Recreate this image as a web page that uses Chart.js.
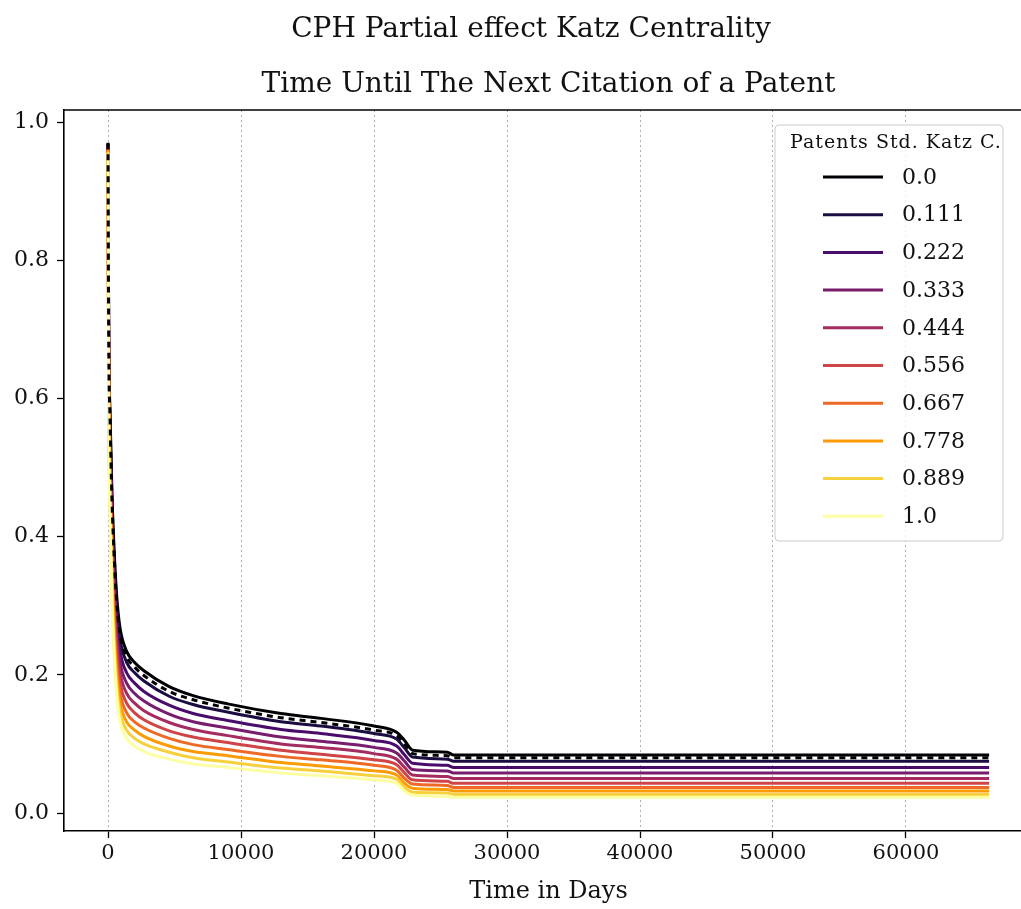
<!DOCTYPE html>
<html>
<head>
<meta charset="utf-8">
<script src="https://cdn.jsdelivr.net/npm/chart.js@4.4.1/dist/chart.umd.min.js"></script>
<style>
  html, body { margin: 0; padding: 0; background: #fff; overflow: hidden; }
  #wrap { width: 1021px; height: 909px; overflow: hidden; position: relative; }
  canvas { display: block; }
</style>
</head>
<body>
<div id="wrap"><canvas id="cphChart" width="1040" height="909"></canvas></div>
<script>
// time grid (days) shared by all curves
const times = [0, 50, 150, 300, 450, 650, 900, 1400, 2000, 2700, 4600, 6400, 9000, 13000, 16000, 20000, 21700, 22300, 22900, 25500, 26000, 66250];

// survival curves, one per Katz value
const katz000 = [0.970, 0.700, 0.580, 0.460, 0.385, 0.315, 0.268, 0.234, 0.218, 0.206, 0.183, 0.170, 0.158, 0.144, 0.137, 0.126, 0.117, 0.105, 0.091, 0.088, 0.084, 0.084];
const katz111 = [0.969, 0.688, 0.565, 0.443, 0.368, 0.298, 0.252, 0.218, 0.203, 0.191, 0.169, 0.157, 0.146, 0.132, 0.126, 0.115, 0.107, 0.094, 0.081, 0.078, 0.075, 0.075];
const katz222 = [0.967, 0.676, 0.550, 0.426, 0.350, 0.281, 0.235, 0.203, 0.188, 0.176, 0.156, 0.144, 0.134, 0.121, 0.115, 0.105, 0.097, 0.084, 0.072, 0.069, 0.066, 0.066];
const katz333 = [0.966, 0.663, 0.534, 0.409, 0.333, 0.264, 0.219, 0.188, 0.173, 0.162, 0.143, 0.132, 0.123, 0.110, 0.104, 0.095, 0.087, 0.075, 0.063, 0.061, 0.058, 0.058];
const katz444 = [0.964, 0.650, 0.518, 0.391, 0.316, 0.248, 0.204, 0.173, 0.159, 0.148, 0.131, 0.121, 0.112, 0.100, 0.095, 0.086, 0.078, 0.066, 0.055, 0.053, 0.050, 0.050];
const katz556 = [0.962, 0.637, 0.502, 0.374, 0.299, 0.232, 0.189, 0.159, 0.145, 0.135, 0.119, 0.110, 0.102, 0.091, 0.085, 0.077, 0.070, 0.058, 0.048, 0.046, 0.043, 0.043];
const katz667 = [0.960, 0.623, 0.485, 0.357, 0.282, 0.216, 0.174, 0.145, 0.132, 0.123, 0.108, 0.099, 0.092, 0.082, 0.077, 0.069, 0.062, 0.050, 0.042, 0.040, 0.037, 0.037];
const katz778 = [0.959, 0.609, 0.468, 0.339, 0.265, 0.200, 0.160, 0.132, 0.120, 0.111, 0.097, 0.089, 0.083, 0.073, 0.068, 0.061, 0.055, 0.043, 0.036, 0.034, 0.032, 0.032];
const katz889 = [0.957, 0.594, 0.452, 0.322, 0.248, 0.185, 0.146, 0.120, 0.108, 0.100, 0.088, 0.080, 0.074, 0.065, 0.061, 0.054, 0.049, 0.037, 0.030, 0.029, 0.027, 0.027];
const katz100 = [0.954, 0.579, 0.435, 0.305, 0.232, 0.171, 0.133, 0.108, 0.097, 0.089, 0.078, 0.071, 0.066, 0.058, 0.054, 0.048, 0.043, 0.032, 0.026, 0.024, 0.023, 0.023];
// dotted baseline survival
const baseline = [0.969, 0.695, 0.573, 0.452, 0.377, 0.307, 0.260, 0.227, 0.211, 0.199, 0.176, 0.164, 0.152, 0.138, 0.131, 0.120, 0.112, 0.100, 0.086, 0.083, 0.080, 0.080];

const seriesLabels = ['0.0', '0.111', '0.222', '0.333', '0.444', '0.556', '0.667', '0.778', '0.889', '1.0'];
const seriesColors = ['#000004', '#1b0c41', '#4a0c6b', '#781c6d', '#a52c60', '#cf4446', '#ed6925', '#fb9b06', '#f7d13d', '#fcffa4'];

const xTicks = [0, 10000, 20000, 30000, 40000, 50000, 60000];
const yTicks = [0.0, 0.2, 0.4, 0.6, 0.8, 1.0];

const SERIF = "'DejaVu Serif', 'Liberation Serif', serif";
const seriesValues = [katz000, katz111, katz222, katz333, katz444, katz556, katz667, katz778, katz889, katz100];

const toPoints = vals => times.map((t, i) => ({ x: t, y: vals[i] }));

const datasets = seriesValues.map((vals, i) => ({
    label: seriesLabels[i],
    data: toPoints(vals),
    borderColor: seriesColors[i],
    borderWidth: 3,
    pointRadius: 0,
    cubicInterpolationMode: 'monotone',
    order: seriesValues.length - i
}));
datasets.push({
    label: 'baseline',
    data: toPoints(baseline),
    borderColor: '#000000',
    borderWidth: 3,
    borderDash: [6, 5],
    pointRadius: 0,
    cubicInterpolationMode: 'monotone',
    order: 0
});

// titles, top spine and the in-plot legend
const decorPlugin = {
    id: 'decor',
    afterDraw(chart) {
        const ctx = chart.ctx;
        const a = chart.chartArea;
        ctx.save();
        ctx.strokeStyle = '#000';
        ctx.lineWidth = 1.6;
        ctx.beginPath();
        ctx.moveTo(a.left, a.top);
        ctx.lineTo(a.right, a.top);
        ctx.stroke();

        ctx.fillStyle = '#111';
        ctx.textAlign = 'center';
        ctx.textBaseline = 'alphabetic';
        ctx.font = '28px ' + SERIF;
        ctx.fillText('CPH Partial effect Katz Centrality', 531, 37);
        ctx.fillText('Time Until The Next Citation of a Patent', (a.left + a.right) / 2, 92);

        // legend box
        const bx = 775, by = 125, bw = 228, bh = 416, r = 4;
        ctx.beginPath();
        ctx.moveTo(bx + r, by);
        ctx.arcTo(bx + bw, by, bx + bw, by + bh, r);
        ctx.arcTo(bx + bw, by + bh, bx, by + bh, r);
        ctx.arcTo(bx, by + bh, bx, by, r);
        ctx.arcTo(bx, by, bx + bw, by, r);
        ctx.closePath();
        ctx.fillStyle = 'rgba(255,255,255,0.8)';
        ctx.fill();
        ctx.strokeStyle = '#cccccc';
        ctx.lineWidth = 1;
        ctx.stroke();

        ctx.fillStyle = '#111';
        ctx.textBaseline = 'middle';
        ctx.font = '19px ' + SERIF;
        if ('letterSpacing' in ctx) ctx.letterSpacing = '1px';
        ctx.fillText('Patents Std. Katz C.', 896, 143);
        if ('letterSpacing' in ctx) ctx.letterSpacing = '0px';

        ctx.font = '22px ' + SERIF;
        ctx.textAlign = 'left';
        seriesLabels.forEach((lab, i) => {
            const y = 177 + i * 37.7;
            ctx.strokeStyle = seriesColors[i];
            ctx.lineWidth = 3;
            ctx.beginPath();
            ctx.moveTo(823, y);
            ctx.lineTo(883, y);
            ctx.stroke();
            ctx.fillText(lab, 902, y + 1);
        });
        ctx.restore();
    }
};

new Chart(document.getElementById('cphChart'), {
    type: 'line',
    data: { datasets: datasets },
    options: {
        responsive: false,
        animation: false,
        devicePixelRatio: 1,
        layout: { padding: { top: 110, right: 7, left: 0, bottom: 0 } },
        plugins: {
            legend: { display: false },
            tooltip: { enabled: false },
            title: { display: false }
        },
        scales: {
            x: {
                type: 'linear',
                min: -3310,
                max: 69550,
                afterBuildTicks: s => { s.ticks = xTicks.map(v => ({ value: v })); },
                afterFit: s => { s.height = 78; },
                ticks: {
                    font: { family: SERIF, size: 21 },
                    color: '#111',
                    padding: 3,
                    maxRotation: 0,
                    callback: v => String(v)
                },
                grid: {
                    display: true,
                    drawOnChartArea: true,
                    color: '#b0b0b0',
                    lineWidth: 1,
                    drawTicks: true,
                    tickLength: 7,
                    tickColor: '#000',
                    tickWidth: 1.3,
                    tickBorderDash: []
                },
                border: { display: true, color: '#000', width: 1.6, dash: [2, 3] },
                title: {
                    display: true,
                    text: 'Time in Days',
                    font: { family: SERIF, size: 24 },
                    color: '#111',
                    padding: { top: 0, bottom: 3 }
                }
            },
            y: {
                type: 'linear',
                min: -0.026,
                max: 1.0174,
                afterBuildTicks: s => { s.ticks = yTicks.map(v => ({ value: v })); },
                afterFit: s => { s.width = 64; },
                ticks: {
                    font: { family: SERIF, size: 22 },
                    color: '#111',
                    padding: 8,
                    callback: v => Number(v).toFixed(1)
                },
                grid: {
                    display: true,
                    drawOnChartArea: false,
                    drawTicks: true,
                    tickLength: 7,
                    tickColor: '#000',
                    tickWidth: 1.3
                },
                border: { display: true, color: '#000', width: 1.6 }
            }
        }
    },
    plugins: [decorPlugin]
});
</script>
</body>
</html>
